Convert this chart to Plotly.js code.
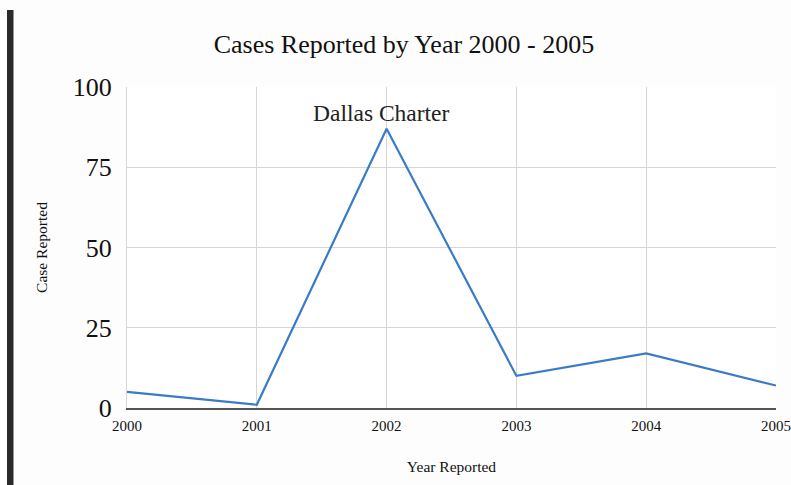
<!DOCTYPE html>
<html>
<head>
<meta charset="utf-8">
<script src="https://cdn.plot.ly/plotly-3.0.1.min.js"></script>
<style>html,body{margin:0;padding:0;background:#fdfdfd;}#chart{width:791px;height:485px;}</style>
</head>
<body>
<div id="chart"></div>
<script>
const years = [2000, 2001, 2002, 2003, 2004, 2005];
const cases = [5, 1, 87, 10, 17, 7];
const yTicks = [0, 25, 50, 75, 100];
const annotationText = "Dallas Charter";
const annotationYear = 2002;

const L = 127, R = 15, T = 87, B = 77, W = 791, H = 485;
const pw = W - L - R, ph = H - T - B;
const px = v => (v - L) / pw;
const py = v => (H - B - v) / ph;

const trace = {
  x: years, y: cases, type: 'scatter', mode: 'lines',
  line: {color: '#3a7bc8', width: 2.2}, hoverinfo: 'skip'
};

const serif = "'Liberation Serif', 'DejaVu Serif', serif";

const layout = {
  width: W, height: H,
  margin: {l: L, r: R, t: T, b: B, pad: 0},
  paper_bgcolor: '#fdfdfd', plot_bgcolor: '#ffffff',
  showlegend: false,
  title: {text: 'Cases Reported by Year 2000 - 2005', font: {family: serif, size: 26, color: '#111'},
          x: 404 / W, xref: 'container', xanchor: 'center', y: 1 - 44 / H, yref: 'container', yanchor: 'middle'},
  xaxis: {
    range: [2000, 2005], tickvals: years, ticktext: years.map(String),
    showgrid: true, gridcolor: '#d6d6d6', gridwidth: 1,
    showline: true, linecolor: '#555', linewidth: 1.5, zeroline: false,
    ticks: '', ticklabelstandoff: 3, tickfont: {family: serif, size: 15, color: '#111'},
    title: {text: 'Year Reported', font: {family: serif, size: 15.5, color: '#111'}, standoff: 28}
  },
  yaxis: {
    range: [0, 100], tickvals: yTicks, ticktext: yTicks.map(String),
    showgrid: true, gridcolor: '#d6d6d6', gridwidth: 1,
    showline: true, linecolor: '#d6d6d6', linewidth: 1, zeroline: false,
    ticks: '', ticklen: 0, ticklabelstandoff: 9, tickfont: {family: serif, size: 26, color: '#111'},
    title: {text: 'Case Reported', font: {family: serif, size: 15.5, color: '#111'}, standoff: 21}
  },
  annotations: [{
    x: annotationYear, y: 92, xref: 'x', yref: 'y', text: annotationText, showarrow: false,
    xshift: -5, font: {family: serif, size: 23.5, color: '#222'}
  }],
  shapes: [{
    type: 'rect', xref: 'paper', yref: 'paper', layer: 'above',
    x0: px(7), x1: px(13.5), y0: py(485), y1: py(10),
    fillcolor: '#2a2a2a', line: {width: 0}
  }]
};

Plotly.newPlot('chart', [trace], layout, {staticPlot: true, displayModeBar: false});
</script>
</body>
</html>
